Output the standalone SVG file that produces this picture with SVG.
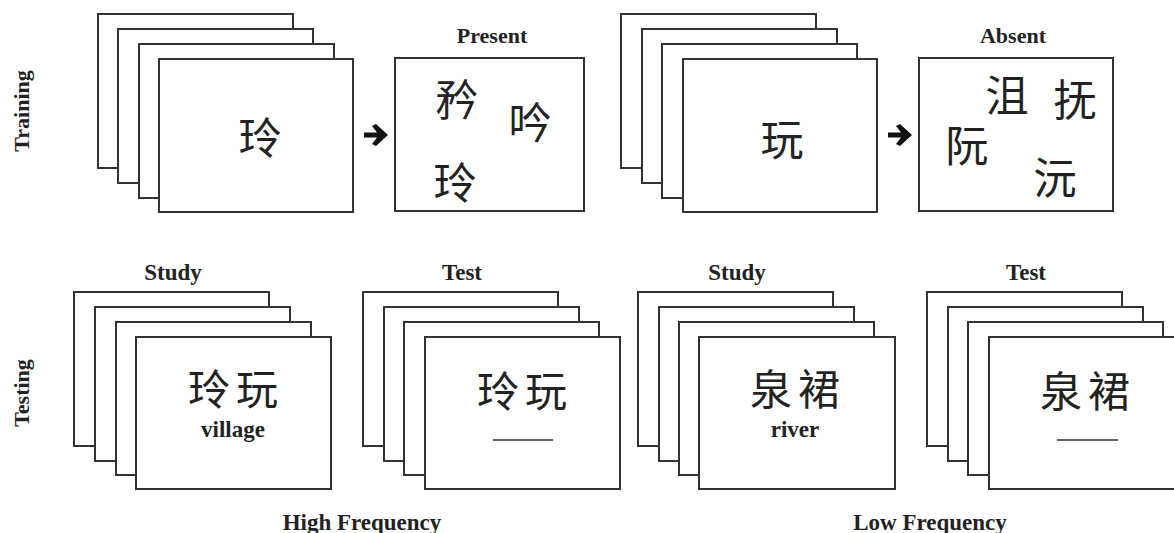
<svg xmlns="http://www.w3.org/2000/svg" width="1174" height="533" viewBox="0 0 1174 533">
<style>
.card{fill:#fff;stroke:#333;stroke-width:2}
.lbl{font-family:"Liberation Serif","Times New Roman",serif;font-weight:bold;font-size:22px;fill:#222;text-anchor:middle}
.lbl2{font-family:"Liberation Serif","Times New Roman",serif;font-weight:bold;font-size:23px;fill:#222;text-anchor:middle}
.cjk{font-family:"Noto Sans CJK SC","Noto Sans CJK TC",sans-serif;font-size:43px;fill:#222;text-anchor:middle;dominant-baseline:central}
.cjk2{font-family:"Noto Sans CJK SC","Noto Sans CJK TC",sans-serif;font-size:42px;fill:#222;text-anchor:middle;dominant-baseline:central;letter-spacing:6px}
.blank{stroke:#333;stroke-width:1.6}
.arr{fill:#111}
</style>
<rect width="1174" height="533" fill="#fff"/>

<g id="side-labels">
<text class="lbl" transform="translate(29,111) rotate(-90)">Training</text>
<text class="lbl" transform="translate(29,393) rotate(-90)">Testing</text>
</g>

<g id="train-high-stack">
<rect class="card" x="98" y="14" width="195" height="154"/>
<rect class="card" x="118" y="29" width="195" height="154"/>
<rect class="card" x="139" y="44" width="195" height="154"/>
<rect class="card" x="159" y="59" width="194" height="153"/>
<text class="cjk" x="260" y="135">玲</text>
</g>

<g id="present-box">
<text class="lbl" x="492" y="43">Present</text>
<rect class="card" x="395" y="58" width="189" height="153"/>
<text class="cjk" x="457" y="97">矜</text>
<text class="cjk" x="530" y="120">吟</text>
<text class="cjk" x="455" y="180">玲</text>
</g>

<g id="train-low-stack">
<rect class="card" x="621" y="14" width="195" height="154"/>
<rect class="card" x="642" y="29" width="195" height="154"/>
<rect class="card" x="662" y="44" width="195" height="154"/>
<rect class="card" x="683" y="59" width="194" height="153"/>
<text class="cjk" x="782" y="137">玩</text>
</g>

<g id="absent-box">
<text class="lbl" x="1013" y="43">Absent</text>
<rect class="card" x="919" y="58" width="194" height="153"/>
<text class="cjk" x="1007" y="93">沮</text>
<text class="cjk" x="1075" y="97">抚</text>
<text class="cjk" x="967" y="143">阮</text>
<text class="cjk" x="1055" y="175">沅</text>
</g>

<g id="connectors">
<path class="arr" d="M364,132.5 L377,132.5 L372,126 L376,124 L388,135 L376,146 L372,144 L377,137.5 L364,137.5 Z"/>
<path class="arr" d="M888,132.5 L901,132.5 L896,126 L900,124 L912,135 L900,146 L896,144 L901,137.5 L888,137.5 Z"/>
</g>

<g id="high-study-stack">
<text class="lbl2" x="173" y="280">Study</text>
<rect class="card" x="74" y="292" width="195" height="154"/>
<rect class="card" x="95" y="307" width="195" height="154"/>
<rect class="card" x="116" y="322" width="195" height="153"/>
<rect class="card" x="136" y="337" width="195" height="152"/>
<text class="cjk2" x="236" y="386">玲玩</text>
<text class="lbl2" x="233" y="437">village</text>
</g>

<g id="high-test-stack">
<text class="lbl2" x="462" y="280">Test</text>
<rect class="card" x="363" y="292" width="195" height="154"/>
<rect class="card" x="384" y="307" width="195" height="154"/>
<rect class="card" x="404" y="322" width="195" height="153"/>
<rect class="card" x="425" y="337" width="195" height="152"/>
<text class="cjk2" x="525" y="388">玲玩</text>
<line class="blank" x1="493" y1="440" x2="553" y2="440"/>
</g>

<g id="low-study-stack">
<text class="lbl2" x="737" y="280">Study</text>
<rect class="card" x="638" y="292" width="195" height="154"/>
<rect class="card" x="659" y="307" width="195" height="154"/>
<rect class="card" x="679" y="322" width="195" height="153"/>
<rect class="card" x="699" y="337" width="196" height="152"/>
<text class="cjk2" x="798" y="386">泉裙</text>
<text class="lbl2" x="795" y="437">river</text>
</g>

<g id="low-test-stack">
<text class="lbl2" x="1026" y="280">Test</text>
<rect class="card" x="927" y="292" width="195" height="154"/>
<rect class="card" x="948" y="307" width="195" height="154"/>
<rect class="card" x="968" y="322" width="195" height="153"/>
<rect class="card" x="989" y="337" width="195" height="152"/>
<text class="cjk2" x="1088" y="388">泉裙</text>
<line class="blank" x1="1057" y1="440" x2="1118" y2="440"/>
</g>

<g id="bottom-labels">
<text class="lbl2" x="362" y="530">High Frequency</text>
<text class="lbl2" x="930" y="530">Low Frequency</text>
</g>
</svg>
